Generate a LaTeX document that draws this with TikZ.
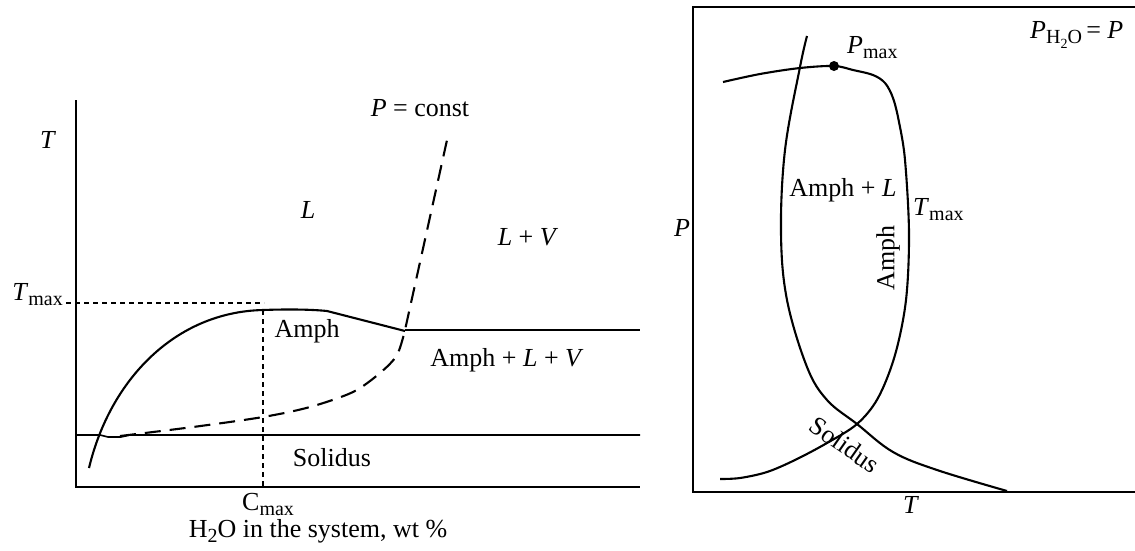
\documentclass[tikz,border=0pt]{standalone}
\usepackage{fontspec}
\setmainfont{Liberation Serif}
\newcommand{\dn}[1]{\raisebox{-0.5ex}{\fontsize{20}{20}\selectfont #1}}
\newcommand{\ddn}[1]{\raisebox{-0.45ex}{\fontsize{14}{14}\selectfont #1}}
\begin{document}
\begin{tikzpicture}[x=1pt,y=-1pt,
  font=\fontsize{26}{30}\selectfont,
  lbl/.style={inner sep=0pt},
  axis/.style={line width=1.6pt},
  crv/.style={line width=2.1pt, line join=round},
  dsh/.style={line width=2.1pt, dash pattern=on 16pt off 9pt},
  dot/.style={line width=1.8pt, dash pattern=on 5pt off 4pt}]
\useasboundingbox (0,0) rectangle (1135,550);

% ---------- left panel ----------
\draw[axis] (76,100) -- (76,487) -- (640,487);
\draw[axis, line join=round] (76,435) -- (100,435) -- (108,437) -- (121,437) -- (130,435) -- (640,435);
\draw[crv] (89,468) .. controls (110,380) and (175,312) .. (263,310)
  .. controls (290,309) and (312,309.5) .. (327,311) -- (405,331);
\draw[axis] (405,330) -- (640,330);
\draw[dsh] plot[smooth, tension=0.5] coordinates {(120,436) (193,427) (263,417) (310,407) (353,392) (380,373) (397,355) (405,330)} -- (447,140);
\draw[dot] (66,303) -- (264,303);
\draw[dot] (263,310) -- (263,487);

\node[lbl] (tl) at (48,140) {\textit{T}};
\node[lbl] (ll) at (308,210) {\textit{L}};
\node[lbl] (pc) at (420,108) {\textit{P} = const};
\node[lbl] (lv) at (528,237) {\textit{L} + \textit{V}};
\node[lbl, anchor=base east] (tmax) at (63,300) {\textit{T}\dn{max}};
\node[lbl] (amph) at (307,331) {Amph};
\node[lbl] (alv) at (507,360) {Amph + \textit{L} + \textit{V}};
\node[lbl] (sol) at (332,458) {Solidus};
\node[lbl, anchor=base west] (cmax) at (242,510) {C\dn{max}};
\node[lbl, anchor=base] (xl) at (318,537) {H\dn{2}O in the system, wt \%};

% ---------- right panel ----------
\draw[axis] (1135,7) -- (693,7) -- (693,492) -- (1135,492);
\draw[crv] plot[smooth, tension=0.6] coordinates {(807,36) (800,67) (785,150) (781,233) (787,300) (807,367) (827,400) (857,424) (893,452) (937,470) (1007,491)};
\draw[crv] plot[smooth, tension=0.55] coordinates {(723,82) (760,74) (800,68) (834,66) (853,70) (873,75) (885,83) (893,98) (899,122) (905,160) (909,233) (906,300) (895,355) (878,398) (857,424) (827,443) (795,460) (767,472) (740,478) (720,479)};
\fill (834,66) circle (5);

\node[lbl] (pr) at (682,228) {\textit{P}};
\node[lbl] (tr) at (911,505) {\textit{T}};
\node[lbl, anchor=base west] (ph) at (1030,38) {\textit{P}\raisebox{-0.5ex}{\fontsize{20}{20}\selectfont H\ddn{2}O}\,= \textit{P}};
\node[lbl, anchor=base west] (pmax) at (847,53) {\textit{P}\dn{max}};
\node[lbl] (al) at (843,190) {Amph + \textit{L}};
\node[lbl, anchor=base west] (tmr) at (913,215) {\textit{T}\dn{max}};
\node[lbl, rotate=90] (amr) at (888,258) {Amph};
\node[lbl, rotate=-35] (solr) at (845,445) {Solidus};
\end{tikzpicture}
\end{document}
